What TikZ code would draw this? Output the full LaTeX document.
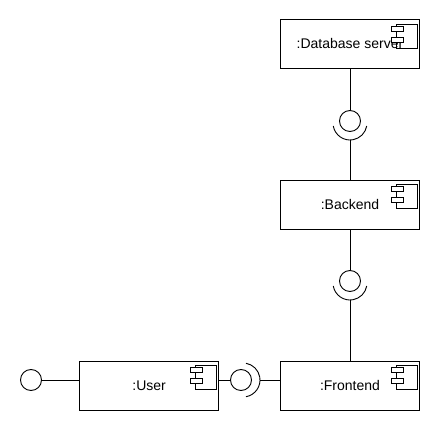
\documentclass[tikz,border=0pt]{standalone}
\usepackage{fontspec}
\setmainfont{Liberation Sans}
\usetikzlibrary{positioning,calc}

% small component symbol in the upper right corner of a box
\newcommand{\compicon}[1]{%
  \draw ([xshift=-24pt,yshift=-5pt]#1.north east) rectangle ++(21pt,-24pt);
  \draw[fill=white] ([xshift=-29pt,yshift=-7pt]#1.north east) rectangle ++(12pt,-5pt);
  \draw[fill=white] ([xshift=-29pt,yshift=-18pt]#1.north east) rectangle ++(12pt,-5pt);}

\begin{document}
\begin{tikzpicture}[x=1pt, y=-1pt, line width=0.9pt,
  comp/.style={draw, minimum width=139pt, minimum height=49pt, inner sep=0pt,
    font=\fontsize{14}{16}\selectfont},
  iface/.style={draw, circle, minimum size=21pt, inner sep=0pt},
]
  \useasboundingbox (0,0) rectangle (440,430);

  % --- components ----------------------------------------------------
  \node[comp] (db) at (350,44) {:Database server};
  \node[comp, below=111pt of db] (be) {:Backend};
  \node[comp, below=131pt of be] (fe) {:Frontend};
  \node[comp, left=61pt of fe]   (usr) {:User};
  \foreach \c in {db,be,fe,usr} {\compicon{\c}}

  % --- provided interfaces (balls) -------------------------------------
  \node[iface] (i1) at (350,121) {};
  \node[iface] (i2) at (350,281) {};
  \node[iface] (i3) at (241,380) {};
  \node[iface] (i0) at (31,380) {};

  % --- required interfaces (sockets) -----------------------------------
  \foreach \i in {1,2} {
    \draw ([yshift=-2pt]i\i.center) ++(190:17pt) arc[start angle=190, end angle=350, radius=17pt];
    \coordinate (s\i) at ([yshift=-19pt]i\i.center);
  }
  \draw ([xshift=2pt]i3.center) ++(-80:17pt) arc[start angle=-80, end angle=80, radius=17pt];
  \coordinate (s3) at ([xshift=19pt]i3.center);

  % --- links -------------------------------------------------------------
  \draw (db) -- (i1);
  \draw (s1) -- (be);
  \draw (be) -- (i2);
  \draw (s2) -- (fe);
  \draw (i0) -- (usr.west |- i0);
  \draw (usr.east |- i3) -- (i3);
  \draw (s3) -- (fe.west |- s3);
\end{tikzpicture}
\end{document}
